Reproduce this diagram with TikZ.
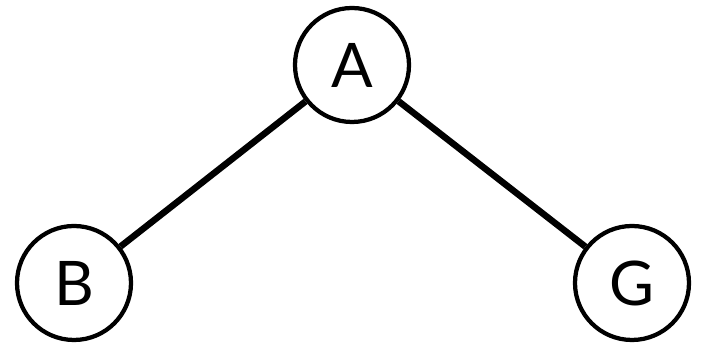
\documentclass[tikz,border=0pt]{standalone}
\usepackage{fontspec}
\setmainfont{Lato}
\usetikzlibrary{positioning}

\begin{document}
\begin{tikzpicture}[
    vertex/.style={draw, circle, line width=0.085cm, minimum size=2.28cm,
      inner sep=0pt, font=\fontsize{35}{35}\selectfont},
    edge/.style={line width=0.13cm}
]
\useasboundingbox (0,0) rectangle (14.02,6.88);
\node[vertex] (a) at (7.04,5.58) {A};
\node[vertex] (b) at (1.48,1.22) {B};
\node[vertex] (g) at (12.64,1.22) {G};

\draw[edge] (a) -- (b);
\draw[edge] (a) -- (g);
\end{tikzpicture}
\end{document}
